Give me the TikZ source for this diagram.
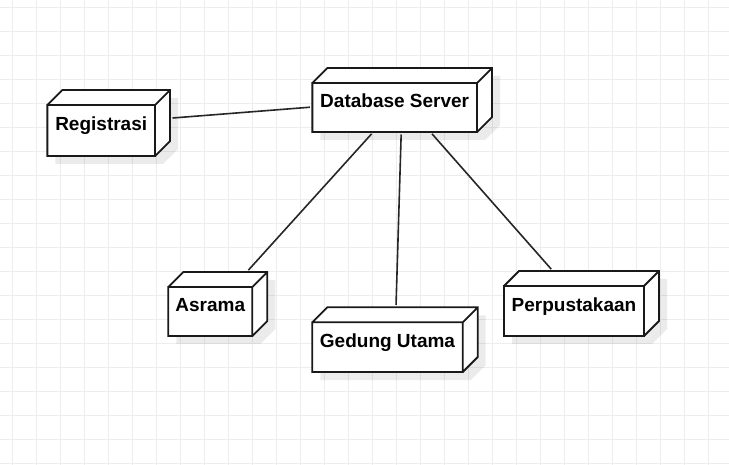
\documentclass[tikz,border=0pt]{standalone}
\usepackage{fontspec}
\setmainfont{Liberation Sans}
\pgfdeclarelayer{bg}
\pgfsetlayers{bg,main}
\tikzset{
  dev/.style={rectangle,inner sep=0pt,outer sep=0pt,font=\bfseries\fontsize{19}{22}\selectfont,
    text height=16pt,text depth=0pt,execute at begin node={\hspace*{-15pt}}},
  lnk/.style={draw=black!85,line width=1.6pt,shorten <=2.5pt,shorten >=2.5pt},
  outl/.style={draw=black!90,line width=1.8pt},
  shd/.style={fill=black,opacity=0.08},
  grd/.style={draw=black!7,line width=1pt},
}
\begin{document}
\begin{tikzpicture}[x=1pt,y=-1pt]
\useasboundingbox (0,0) rectangle (729,465);
\node[dev,minimum width=122.7pt,minimum height=66pt] (reg) at (108.7,123){Registrasi};
\node[dev,minimum width=179.7pt,minimum height=64pt] (db) at (402.2,100){Database Server};
\node[dev,minimum width=99pt,minimum height=64pt] (asr) at (217.8,304){Asrama};
\node[dev,minimum width=165.4pt,minimum height=64.7pt] (ged) at (395,339.7){Gedung Utama};
\node[dev,minimum width=155pt,minimum height=65pt] (perp) at (581.5,303.5){Perpustakaan};
\draw[lnk] (reg)--(db); \draw[lnk] (db)--(asr); \draw[lnk] (db)--(ged); \draw[lnk] (db)--(perp);
\begin{pgfonlayer}{bg}
\fill[white] (0,0) rectangle (729,465);
\foreach \i in {0,...,29} \draw[grd] (12+24*\i,0)--(12+24*\i,465);
\foreach \i in {0,...,19} \draw[grd] (0,7.5+24*\i)--(729,7.5+24*\i);
\foreach \n in {reg,db,asr,ged,perp}{
  \fill[shd] ([shift={(8pt,-8pt)}]\n.south west) -- ([shift={(8pt,-23pt)}]\n.north west) -- ([shift={(23pt,-8pt)}]\n.north west)
    -- ([shift={(8pt,-8pt)}]\n.north east) -- ([shift={(8pt,7pt)}]\n.south east) -- ([shift={(-7pt,-8pt)}]\n.south east) -- cycle;
  \fill[white] (\n.south west) -- ([yshift=-15pt]\n.north west) -- ([xshift=15pt]\n.north west)
    -- (\n.north east) -- ([yshift=15pt]\n.south east) -- ([xshift=-15pt]\n.south east) -- cycle;
}
\end{pgfonlayer}
\foreach \n in {reg,db,asr,ged,perp}{
  \draw[outl] (\n.south west) rectangle ([shift={(-15pt,-15pt)}]\n.north east)
    ([yshift=-15pt]\n.north west) -- ([xshift=15pt]\n.north west) -- (\n.north east) -- ([yshift=15pt]\n.south east) -- ([xshift=-15pt]\n.south east)
    (\n.north east) -- ([shift={(-15pt,-15pt)}]\n.north east);
}
\end{tikzpicture}
\end{document}
